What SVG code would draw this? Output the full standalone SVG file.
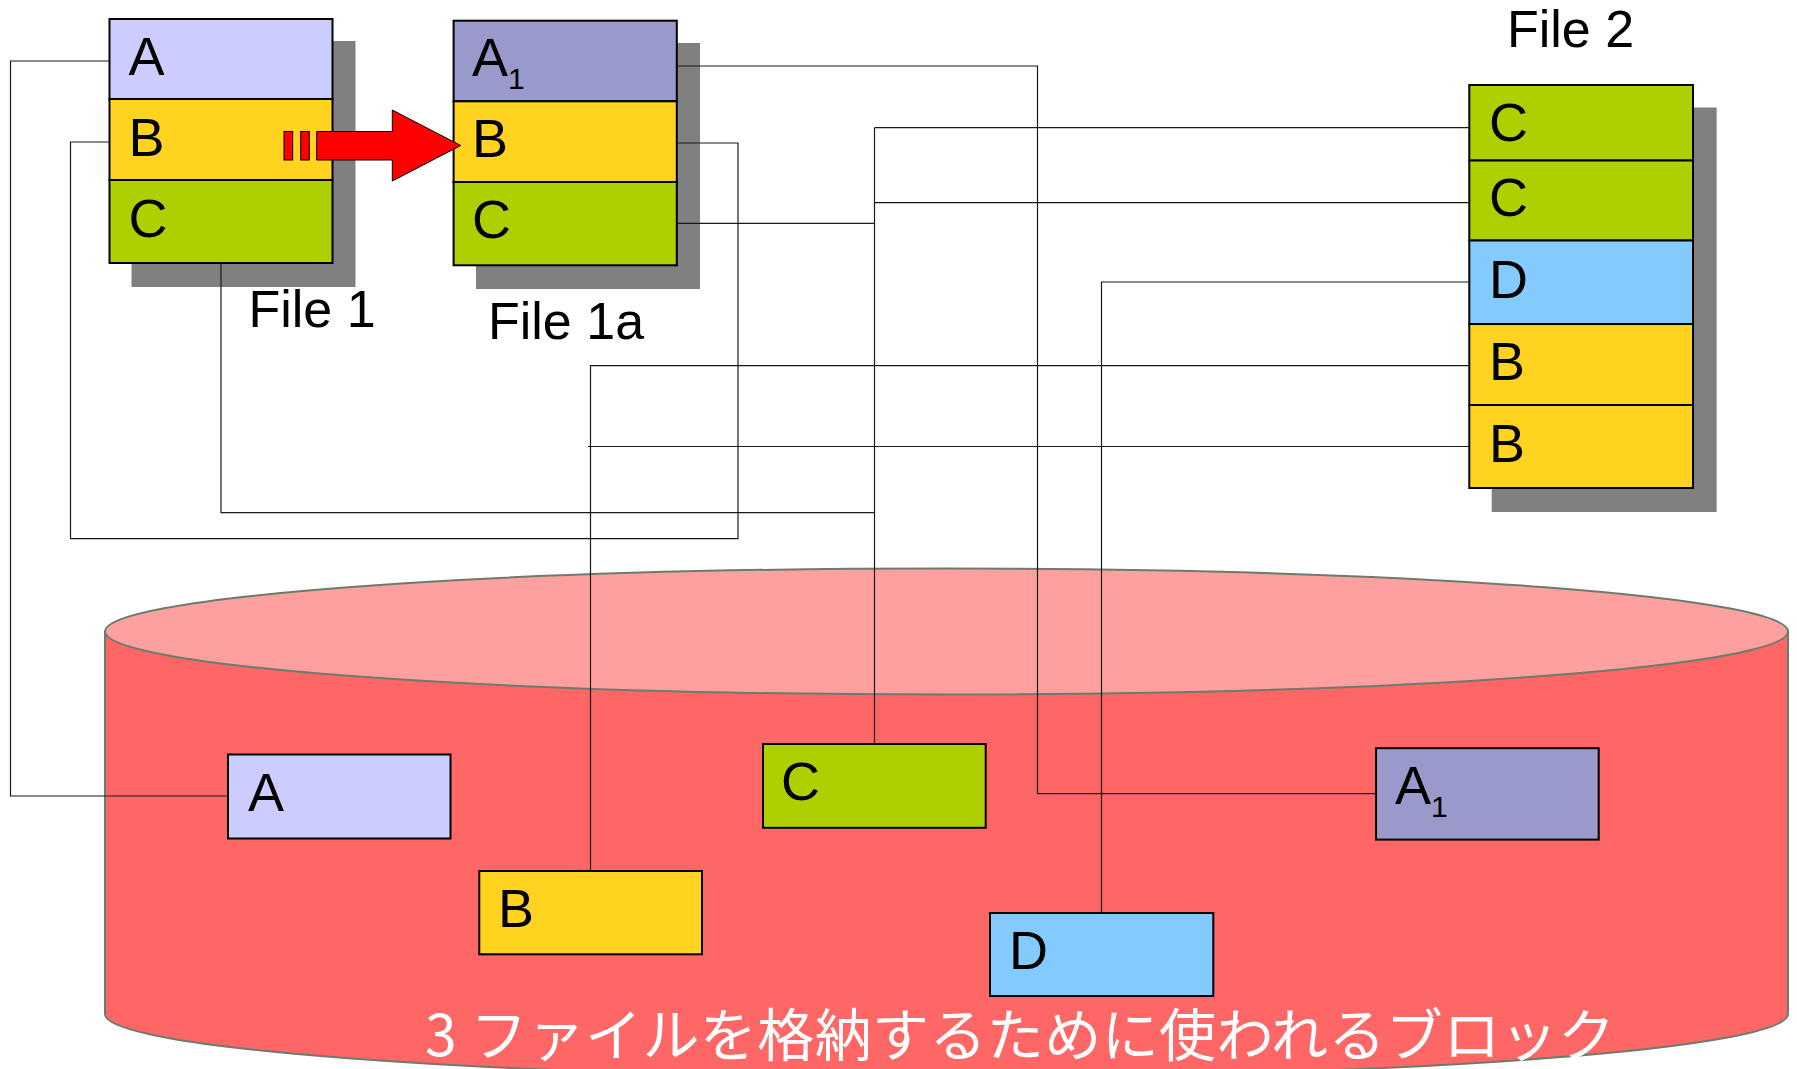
<svg xmlns="http://www.w3.org/2000/svg" width="1797" height="1069" viewBox="0 0 1797 1069">
<style>
.sh{fill:#808080}
.cell{stroke:#000;stroke-width:2}
.a{fill:#ccccff}.a1{fill:#9999cc}.b{fill:#ffd320}.c{fill:#afd000}.d{fill:#83caff}
.t{font-family:"Liberation Sans",Arial,sans-serif;font-size:54px;fill:#000}
.sub{font-size:30px}
.lbl{font-family:"Liberation Sans",Arial,sans-serif;font-size:52px;fill:#000}
.con{fill:none;stroke:#1a1a1a;stroke-width:1.2}
.jp{font-family:"Noto Sans CJK JP","Noto Sans",sans-serif;font-size:57px;fill:#fff}
</style>
<rect width="1797" height="1069" fill="#fff"/>
<g id="disk">
<path d="M105,631.5 V1014 A841.5,63 0 0 0 1788,1014 V631.5 Z" fill="#ff6666" stroke="#6c7c6c" stroke-width="2"/>
<ellipse cx="946.5" cy="631.5" rx="841.5" ry="63" fill="#ffa0a0" stroke="#6c7c6c" stroke-width="2"/>
<text class="jp" x="425" y="1056" textLength="1190" lengthAdjust="spacing">3 ファイルを格納するために使われるブロック</text>
</g>
<g id="file1">
<rect class="sh" x="131.5" y="41" width="224" height="246"/>
<rect class="cell a" x="109.5" y="19" width="223" height="80"/>
<rect class="cell b" x="109.5" y="99" width="223" height="81"/>
<rect class="cell c" x="109.5" y="180" width="223" height="83"/>
<text class="t" x="128.5" y="75">A</text>
<text class="t" x="128.5" y="156">B</text>
<text class="t" x="128.5" y="237">C</text>
<text class="lbl" x="248.5" y="327">File 1</text>
</g>
<g id="file1a">
<rect class="sh" x="476" y="43" width="224" height="246"/>
<rect class="cell a1" x="453.6" y="20.7" width="223.2" height="80.6"/>
<rect class="cell b" x="453.6" y="101.3" width="223.2" height="80.7"/>
<rect class="cell c" x="453.6" y="182" width="223.2" height="83.3"/>
<text class="t" x="472" y="76">A<tspan class="sub" dy="13">1</tspan></text>
<text class="t" x="472" y="156.7">B</text>
<text class="t" x="472" y="238">C</text>
<text class="lbl" x="488" y="338.5">File 1a</text>
</g>
<g id="file2">
<rect class="sh" x="1491.7" y="107.5" width="225" height="404.5"/>
<rect class="cell c" x="1469.3" y="85" width="223.7" height="75.5"/>
<rect class="cell c" x="1469.3" y="160.5" width="223.7" height="80"/>
<rect class="cell d" x="1469.3" y="240.5" width="223.7" height="83.5"/>
<rect class="cell b" x="1469.3" y="324" width="223.7" height="81"/>
<rect class="cell b" x="1469.3" y="405" width="223.7" height="83"/>
<text class="t" x="1489" y="141.3">C</text>
<text class="t" x="1489" y="216.4">C</text>
<text class="t" x="1489" y="297.5">D</text>
<text class="t" x="1489" y="380.3">B</text>
<text class="t" x="1489" y="461.5">B</text>
<text class="lbl" x="1507" y="47.3">File 2</text>
</g>
<g id="blockA">
<rect class="cell a" x="228" y="754.5" width="222.5" height="84"/>
<text class="t" x="248" y="811">A</text>
</g>
<g id="blockB">
<rect class="cell b" x="479.3" y="871" width="222.7" height="83.3"/>
<text class="t" x="498" y="927">B</text>
</g>
<g id="blockC">
<rect class="cell c" x="763" y="744" width="222.7" height="83.8"/>
<text class="t" x="781" y="800">C</text>
</g>
<g id="blockA1">
<rect class="cell a1" x="1376" y="748.2" width="222.7" height="91.4"/>
<text class="t" x="1395" y="804">A<tspan class="sub" dy="13">1</tspan></text>
</g>
<g id="blockD">
<rect class="cell d" x="990" y="913" width="223.3" height="83"/>
<text class="t" x="1009" y="969">D</text>
</g>
<g id="connectors">
<path class="con" d="M109.5,61 H10.5 V796 H228"/>
<path class="con" d="M109.5,142 H70.5 V538.7 H738 V143 H676.8"/>
<path class="con" d="M221,263 V512.7 H874.5"/>
<path class="con" d="M676.8,66 H1037.5 V793.7 H1376"/>
<path class="con" d="M676.8,223.3 H874.5"/>
<path class="con" d="M874.5,127.7 V744"/>
<path class="con" d="M874.5,127.7 H1469.3"/>
<path class="con" d="M874.5,202.7 H1469.3"/>
<path class="con" d="M1469.3,282 H1101.5 V913"/>
<path class="con" d="M1469.3,365.7 H590.5 V871"/>
<path class="con" d="M1469.3,446.5 H588"/>
</g>
<g id="arrow" fill="#ff0000" stroke="#000" stroke-width="1">
<rect x="284" y="131.5" width="8.7" height="28.5"/>
<rect x="300.7" y="131.5" width="8.6" height="28.5"/>
<polygon points="316.7,131.5 392.3,131.5 392.3,110 460.7,145.5 392.3,181 392.3,160 316.7,160"/>
</g>
</svg>
